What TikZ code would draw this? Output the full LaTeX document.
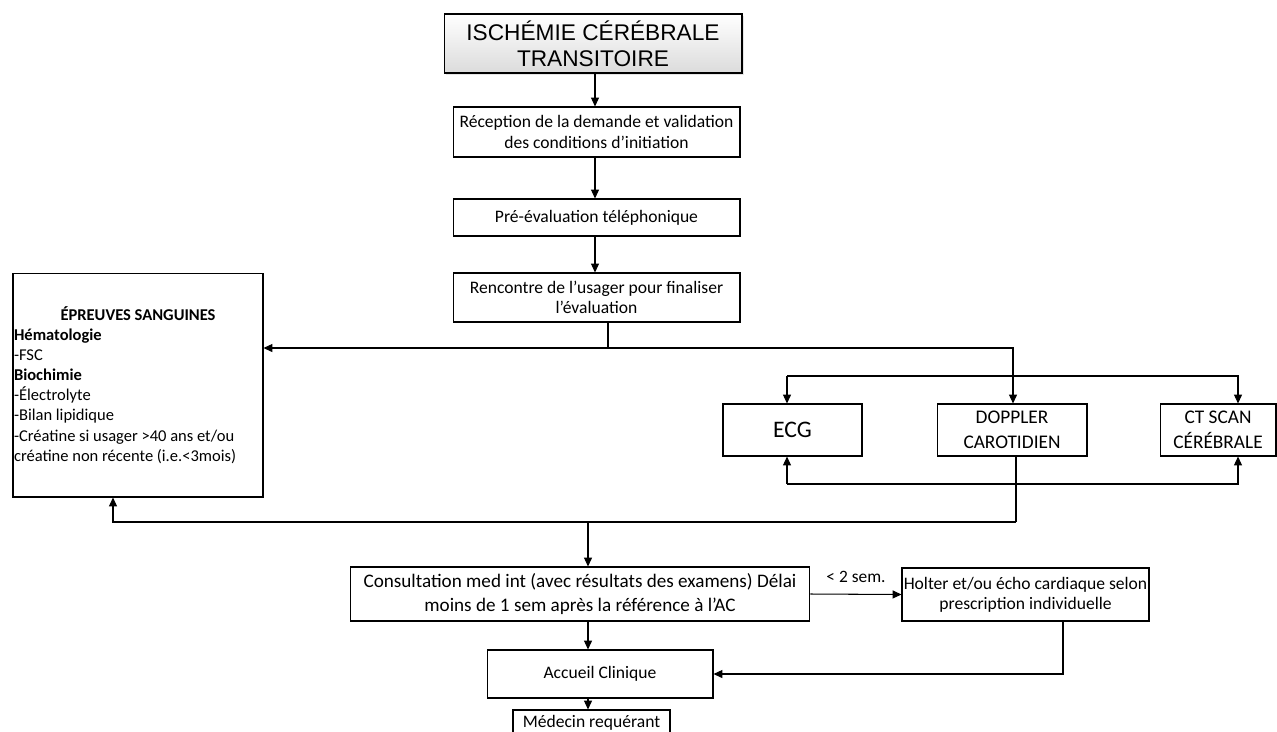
\documentclass[tikz,border=0pt]{standalone}
\usepackage{fontspec}
\setmainfont{Carlito}
\newfontfamily\titlefont{Liberation Sans}
\usetikzlibrary{arrows.meta,shadows}

\begin{document}
\begin{tikzpicture}[x=0.02cm,y=-0.02cm,
	main_node/.style={rectangle,draw,line width=0.6pt,align=center,inner sep=1pt,font=\fontsize{10}{11.6}\selectfont},
	title_node/.style={main_node,top color=white,bottom color=black!14,drop shadow={shadow xshift=1.2pt,shadow yshift=-1.2pt,fill=black!20},font=\titlefont\fontsize{12.9}{14.8}\selectfont},
	exam_node/.style={main_node,minimum height=1.04cm,font=\fontsize{11}{14.2}\selectfont},
	link/.style={line width=0.6pt},
	arr/.style={link,-{Triangle[length=5pt,width=4.5pt]}}]

		\useasboundingbox (0,0) rectangle (1277,731);
		\clip (0,0) rectangle (1277,731);

		\node[title_node,minimum width=5.96cm,minimum height=1.18cm] (ait) at (593,43.5) {ISCHÉMIE CÉRÉBRALE\\TRANSITOIRE};
		\node[main_node,minimum width=5.74cm,minimum height=1.0cm] (recep) at (596.5,132) {Réception de la demande et validation\\des conditions d’initiation};
		\node[main_node,minimum width=5.74cm,minimum height=0.74cm] (preeval) at (596.5,217.5) {Pré-évaluation téléphonique};
		\node[main_node,minimum width=5.74cm,minimum height=0.98cm] (rencontre) at (596.5,297.5) {Rencontre de l’usager pour finaliser\\l’évaluation};

		\node[main_node,minimum width=5.0cm,minimum height=4.48cm,inner sep=0.5pt,font=\fontsize{9.4}{11.45}\selectfont] (sang) at (138,385) {\parbox{4.96cm}{\raggedright
			\makebox[\linewidth]{\textbf{ÉPREUVES SANGUINES}}\\\textbf{Hématologie}\\-FSC\\\textbf{Biochimie}\\-Électrolyte\\-Bilan lipidique\\-Créatine si usager >40 ans et/ou\\créatine non récente (i.e.<3mois)}};

		\node[exam_node,minimum width=2.78cm,font=\fontsize{13.5}{15}\selectfont] (ecg) at (792.5,430) {ECG};
		\node[exam_node,minimum width=3.0cm] (doppler) at (1012,430) {DOPPLER\\CAROTIDIEN};
		\node[exam_node,minimum width=2.32cm] (ct) at (1218,430) {CT SCAN\\CÉRÉBRALE};

		\node[main_node,minimum width=9.2cm,minimum height=1.08cm,font=\fontsize{10.9}{14}\selectfont] (consult) at (580,594) {Consultation med int (avec résultats des examens) Délai\\moins de 1 sem après la référence à l’AC};
		\node[main_node,minimum width=4.9cm,minimum height=1.06cm] (holter) at (1025.5,594.5) {Holter et/ou écho cardiaque selon\\prescription individuelle};
		\node[main_node,minimum width=4.52cm,minimum height=0.96cm] (accueil) at (600,674) {Accueil Clinique};
		\node[main_node,minimum width=3.14cm,minimum height=0.5cm] (medecin) at (591.5,722.5) {Médecin requérant};

		\coordinate (split) at (608,348);
		\coordinate (back) at (1016,522);

		\draw[arr] (ait.south -| 595,0) -- (recep.north -| 595,0);
		\draw[arr] (recep.south -| 595,0) -- (preeval.north -| 595,0);
		\draw[arr] (preeval.south -| 595,0) -- (rencontre.north -| 595,0);

		\draw[link] (rencontre.south -| split) -- (split);
		\draw[arr] (split) -- (sang.east |- split);
		\draw[arr] (split) -| (doppler.north -| 1013,0);
		\draw[arr] (787,376) -- (ecg.north -| 787,0);
		\draw[arr] (787,376) -| (ct.north -| 1238,0);
		\draw[arr] (787,484) -- (ecg.south -| 787,0);
		\draw[arr] (787,484) -| (ct.south -| 1238,0);

		\draw[link] (doppler.south -| back) -- (back);
		\draw[arr] (back) -| (sang.south -| 113,0);
		\draw[arr] (back -| 588,0) -- (consult.north -| 588,0);

		\draw[arr] (consult.east) -- node[above=3pt,font=\fontsize{9.9}{11}\selectfont] {< 2 sem.} (holter.west);
		\draw[arr] (holter.south -| 1063,0) |- (accueil.east);
		\draw[arr] (consult.south -| 588,0) -- (accueil.north -| 588,0);
		\draw[arr] (accueil.south -| 588,0) -- (medecin.north -| 588,0);
		\end{tikzpicture}
\end{document}
